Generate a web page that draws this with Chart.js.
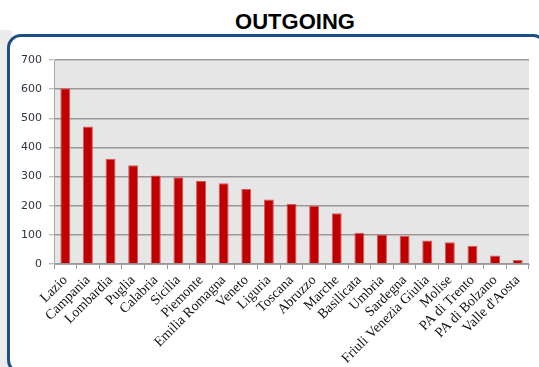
<!DOCTYPE html>
<html>
<head>
<meta charset="utf-8">
<script src="https://cdn.jsdelivr.net/npm/chart.js@4.4.0/dist/chart.umd.min.js"></script>
<style>
    html, body { margin: 0; padding: 0; background: #fff; }
    #wrap { position: relative; width: 539px; height: 367px; overflow: hidden; }
    #shade { position: absolute; left: 0; top: 30px; width: 12px; height: 337px; background: #ececec; }
    #panel {
        position: absolute; left: 7px; top: 34px; width: 540px; height: 340px;
        border: 3px solid #1d4f86; border-radius: 14px; background: #fff;
        box-sizing: border-box;
    }
    #title {
        position: absolute; left: 195px; top: 9px; width: 200px; text-align: center;
        font: bold 22px "Liberation Sans", Arial, sans-serif; color: #000;
    }
    canvas { position: absolute; left: 0; top: 0; }
</style>
</head>
<body>
<div id="wrap">
    <div id="shade"></div>
    <div id="panel"></div>
    <div id="title">OUTGOING</div>
    <canvas id="chart" width="539" height="367"></canvas>
</div>
<script>
// regions and outgoing counts
const regions = ["Lazio", "Campania", "Lombardia", "Puglia", "Calabria", "Sicilia", "Piemonte",
    "Emilia Romagna", "Veneto", "Liguria", "Toscana", "Abruzzo", "Marche", "Basilicata", "Umbria",
    "Sardegna", "Friuli Venezia Giulia", "Molise", "PA di Trento", "PA di Bolzano", "Valle d'Aosta"];
const outgoing = [603, 472, 361, 339, 304, 298, 285, 277, 257, 221, 206, 200, 174, 107, 101,
    97, 81, 75, 63, 29, 14];
const yTicks = [0, 100, 200, 300, 400, 500, 600, 700];

// grey fill behind the plot
const plotBg = {
    id: 'plotBg',
    beforeDraw(chart) {
        const a = chart.chartArea;
        const ctx = chart.ctx;
        ctx.save();
        ctx.fillStyle = '#e6e6e6';
        ctx.fillRect(a.left, a.top, a.right - a.left, a.bottom - a.top);
        ctx.restore();
    }
};

const ctx = document.getElementById("chart").getContext("2d");
new Chart(ctx, {
    type: 'bar',
    data: {
        labels: regions,
        datasets: [{
            label: 'Outgoing',
            data: outgoing,
            backgroundColor: '#c00000',
            borderColor: '#d65a5a',
            borderWidth: 1,
            barPercentage: 0.44,
            categoryPercentage: 1.0,
        }]
    },
    options: {
        responsive: false,
        animation: false,
        layout: { padding: { left: 0, top: 60, right: 10, bottom: 0 } },
        plugins: {
            legend: { display: false },
            title: { display: false },
            tooltip: { enabled: false }
        },
        scales: {
            x: {
                afterFit: (scale) => { scale.height = 103; },
                grid: {
                    drawOnChartArea: false,
                    drawTicks: true,
                    tickLength: 5,
                    color: '#999999'
                },
                border: { color: '#a6a6a6', width: 1 },
                ticks: {
                    autoSkip: false,
                    minRotation: 45,
                    maxRotation: 45,
                    padding: 3,
                    color: '#111111',
                    font: { family: '"Liberation Serif", serif', size: 14 }
                }
            },
            y: {
                min: 0,
                max: 700,
                afterFit: (scale) => { scale.width = 54; },
                afterBuildTicks: (scale) => { scale.ticks = yTicks.map(v => ({ value: v })); },
                grid: {
                    color: '#999999',
                    lineWidth: 1.5,
                    tickLength: 5,
                    tickColor: '#a6a6a6',
                    tickWidth: 1
                },
                border: { color: '#a6a6a6', width: 1 },
                ticks: {
                    padding: 7,
                    color: '#333344',
                    font: { family: '"DejaVu Sans", sans-serif', size: 11 }
                }
            }
        }
    },
    plugins: [plotBg]
});
</script>
</body>
</html>
